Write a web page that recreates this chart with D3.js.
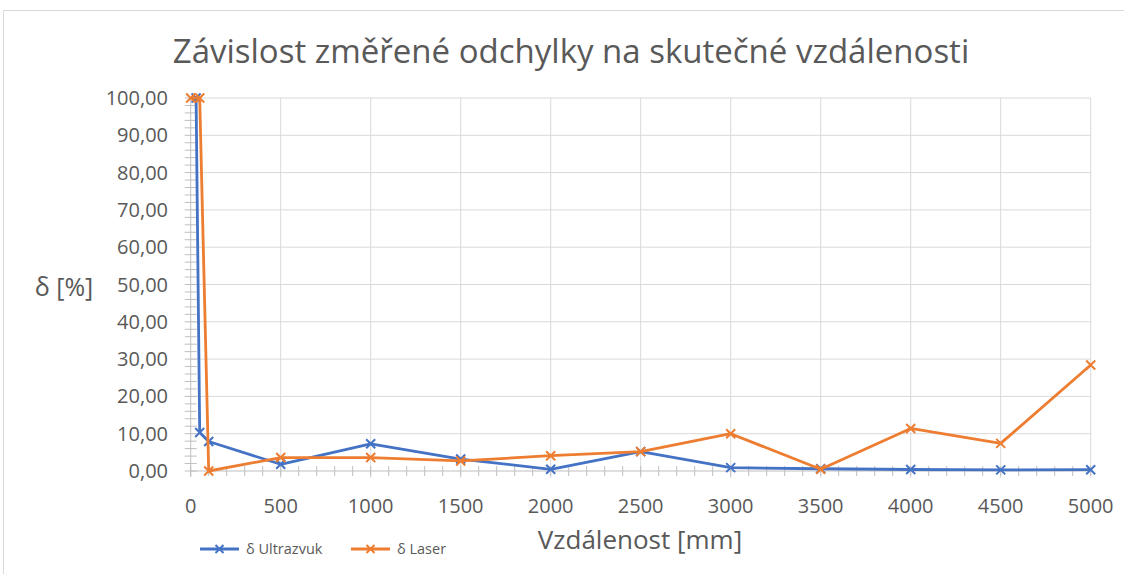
<!DOCTYPE html>
<html>
<head>
<meta charset="utf-8">
<script src="https://cdn.jsdelivr.net/npm/d3@7"></script>
<style>
  body { margin: 0; background: #fff; }
  svg { display: block; font-family: "Open Sans", sans-serif; }
</style>
</head>
<body>
<svg id="chart"></svg>
<script>
// values
const distUltrazvuk = [30, 50, 100, 500, 1000, 1500, 2000, 2500, 3000, 3500, 4000, 4500, 5000];
const deltaUltrazvuk = [100, 10.3, 7.9, 1.8, 7.3, 3.2, 0.45, 5.2, 0.9, 0.6, 0.4, 0.3, 0.35];
const distLaser = [0, 50, 100, 500, 1000, 1500, 2000, 2500, 3000, 3500, 4000, 4500, 5000];
const deltaLaser = [100, 100, 0, 3.6, 3.6, 2.7, 4.1, 5.2, 10.0, 0.45, 11.4, 7.4, 28.4];
const xTicks = [0, 500, 1000, 1500, 2000, 2500, 3000, 3500, 4000, 4500, 5000];
const yTicks = [0, 10, 20, 30, 40, 50, 60, 70, 80, 90, 100];
const seriesNames = ["δ Ultrazvuk", "δ Laser"];
const colors = ["#4472c4", "#ed7d31"];

const width = 1124, height = 574;
const svg = d3.select("#chart")
    .attr("width", width)
    .attr("height", height);

// outer chart frame
svg.append("rect")
    .attr("x", 3.5).attr("y", 10.5)
    .attr("width", 1200).attr("height", 700)
    .attr("fill", "#fff")
    .attr("stroke", "#d9d9d9");

const x = d3.scaleLinear().domain([0, 5000]).range([190.7, 1090.7]);
const y = d3.scaleLinear().domain([0, 100]).range([471, 98]);

// gridlines
svg.append("g")
    .selectAll("line")
    .data(yTicks.slice(1))
    .join("line")
    .attr("x1", x(0)).attr("x2", x(5000))
    .attr("y1", d => y(d)).attr("y2", d => y(d))
    .attr("stroke", "#d9d9d9").attr("stroke-width", 1);

svg.append("g")
    .selectAll("line")
    .data(xTicks.slice(1))
    .join("line")
    .attr("x1", d => x(d)).attr("x2", d => x(d))
    .attr("y1", y(100)).attr("y2", y(0) + 7)
    .attr("stroke", "#d9d9d9").attr("stroke-width", 1);

// minor ticks (crossing the axes)
svg.append("g")
    .selectAll("line")
    .data(d3.range(0, 5001, 100))
    .join("line")
    .attr("x1", d => x(d)).attr("x2", d => x(d))
    .attr("y1", y(0) - 5).attr("y2", y(0) + 5)
    .attr("stroke", "#bfbfbf");

svg.append("g")
    .selectAll("line")
    .data(d3.range(0, 101, 2))
    .join("line")
    .attr("x1", x(0) - 6).attr("x2", x(0) + 6)
    .attr("y1", d => y(d)).attr("y2", d => y(d))
    .attr("stroke", "#bfbfbf");

// axis lines
svg.append("line")
    .attr("x1", x(0)).attr("x2", x(5000))
    .attr("y1", y(0)).attr("y2", y(0))
    .attr("stroke", "#bfbfbf");
svg.append("line")
    .attr("x1", x(0)).attr("x2", x(0))
    .attr("y1", y(0) + 6).attr("y2", y(100))
    .attr("stroke", "#bfbfbf");

// tick labels
const fmt = d => d3.format(".2f")(d).replace(".", ",");
svg.append("g")
    .selectAll("text")
    .data(yTicks)
    .join("text")
    .attr("x", 168).attr("y", d => y(d))
    .attr("dy", "0.35em")
    .attr("text-anchor", "end")
    .attr("font-size", 20)
    .attr("fill", "#595959")
    .text(fmt);

svg.append("g")
    .selectAll("text")
    .data(xTicks)
    .join("text")
    .attr("x", d => x(d)).attr("y", 506)
    .attr("dy", "0.35em")
    .attr("text-anchor", "middle")
    .attr("font-size", 20)
    .attr("fill", "#595959")
    .text(d => d);

// titles
svg.append("text")
    .attr("x", 571).attr("y", 63)
    .attr("text-anchor", "middle")
    .attr("font-size", 33)
    .attr("fill", "#595959")
    .text("Závislost změřené odchylky na skutečné vzdálenosti");

svg.append("text")
    .attr("x", 64).attr("y", 296)
    .attr("text-anchor", "middle")
    .attr("font-size", 25)
    .attr("fill", "#595959")
    .text("δ [%]");

svg.append("text")
    .attr("x", 640).attr("y", 549)
    .attr("text-anchor", "middle")
    .attr("font-size", 26)
    .attr("fill", "#595959")
    .text("Vzdálenost [mm]");

// series
const series = [
    distUltrazvuk.map((d, i) => [d, deltaUltrazvuk[i]]),
    distLaser.map((d, i) => [d, deltaLaser[i]])
];
const line = d3.line().x(d => x(d[0])).y(d => y(d[1]));
const cross = (g, s, c) => g.append("path")
    .attr("d", `M${-s},${-s}L${s},${s}M${-s},${s}L${s},${-s}`)
    .attr("stroke", c).attr("stroke-width", 2).attr("fill", "none");

series.forEach((pts, k) => {
    svg.append("path")
        .datum(pts)
        .attr("d", line)
        .attr("fill", "none")
        .attr("stroke", colors[k])
        .attr("stroke-width", 2.8)
        .attr("stroke-linejoin", "round");
    svg.append("g")
        .selectAll("g")
        .data(pts)
        .join("g")
        .attr("transform", d => `translate(${x(d[0])},${y(d[1])})`)
        .each(function () { cross(d3.select(this), 4.5, colors[k]); });
});

// legend
const legend = svg.append("g")
    .selectAll("g")
    .data(seriesNames)
    .join("g")
    .attr("transform", (d, i) => `translate(${200 + i * 151},549)`);
legend.append("line")
    .attr("x1", 0).attr("x2", 39)
    .attr("stroke", (d, i) => colors[i]).attr("stroke-width", 2.8);
legend.each(function (d, i) { cross(d3.select(this).append("g").attr("transform", "translate(19.5,0)"), 4, colors[i]); });
legend.append("text")
    .attr("x", 46).attr("dy", "0.35em")
    .attr("font-size", 14.5)
    .attr("fill", "#595959")
    .text(d => d);
</script>
</body>
</html>
